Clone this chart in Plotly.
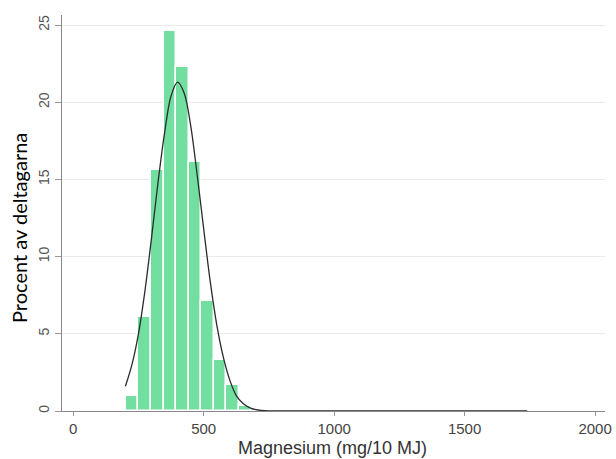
import plotly.graph_objects as go

# Histogram bins (Magnesium mg/10 MJ) and percent of participants
bin_centers = [226, 274, 322, 370, 418, 466, 514, 562, 610, 658, 706]
bin_percent = [1.0, 6.1, 15.6, 24.6, 22.3, 16.1, 7.1, 3.3, 1.7, 0.35, 0.08]
bin_width = 48

# Overlaid normal curve
curve_x = [200, 225, 250, 275, 300, 325, 350, 375, 400, 425, 450, 475, 500,
           525, 550, 575, 600, 625, 650, 675, 700, 750, 800, 900, 1000, 1200,
           1400, 1600, 1740]
curve_y = [1.6, 3.0, 5.0, 7.8, 11.2, 14.8, 18.0, 20.4, 21.3, 20.6, 18.5, 15.3,
           11.8, 8.4, 5.6, 3.5, 2.0, 1.0, 0.5, 0.22, 0.09, 0.01, 0.0, 0.0, 0.0,
           0.0, 0.0, 0.0, 0.0]

x_ticks = [0, 500, 1000, 1500, 2000]
y_ticks = [0, 5, 10, 15, 20, 25]

fig = go.Figure()
fig.add_trace(go.Bar(
    x=bin_centers, y=bin_percent, width=[bin_width] * len(bin_centers),
    marker=dict(color="#72dea0", line=dict(color="white", width=1.5)),
    showlegend=False, hoverinfo="skip"))
fig.add_trace(go.Scatter(
    x=curve_x, y=curve_y, mode="lines", line=dict(color="#2b2b2b", width=1.3, shape="spline"),
    showlegend=False, hoverinfo="skip"))

fig.update_layout(
    width=616, height=459,
    margin=dict(l=62, r=11, t=15, b=48),
    paper_bgcolor="white", plot_bgcolor="white",
    bargap=0,
    font=dict(family="Liberation Sans, Arial, sans-serif", color="#444444"),
    xaxis=dict(range=[-43, 2038], tickvals=x_ticks, ticktext=[str(v) for v in x_ticks],
               automargin=False,
               showgrid=False, zeroline=False, showline=True, linecolor="#888888", linewidth=1.2,
               ticks="outside", ticklen=4, tickcolor="#999999",
               tickfont=dict(size=15, color="#444444")),
    yaxis=dict(range=[0, 25.65], tickvals=y_ticks, ticktext=[str(v) for v in y_ticks],
               automargin=False,
               tickangle=-90, showgrid=True, gridcolor="#ebebeb", gridwidth=1,
               zeroline=False, showline=True, linecolor="#888888", linewidth=1.2,
               ticks="outside", ticklen=6, tickcolor="#999999",
               tickfont=dict(size=14, color="#555555")),
    annotations=[
        dict(text="Procent av deltagarna", x=19, y=228, xref="paper", yref="paper",
             showarrow=False, textangle=-90,
             font=dict(family="Lato, sans-serif", size=20, color="black")),
        dict(text="Magnesium (mg/10 MJ)", x=332, y=448, xref="paper", yref="paper",
             showarrow=False, font=dict(family="Liberation Sans, Arial, sans-serif", size=18, color="#333333")),
    ],
)

# Convert pixel-placed annotations to paper coordinates
pw = 616 - 62 - 11
ph = 459 - 15 - 48
for a in fig.layout.annotations:
    a.x = (a.x - 62) / pw
    a.y = (459 - 48 - a.y) / ph
    a.xanchor = "center"
    a.yanchor = "middle"

fig.write_html("out.html", config={"displayModeBar": False},
               post_script="document.body.style.margin='0';")
